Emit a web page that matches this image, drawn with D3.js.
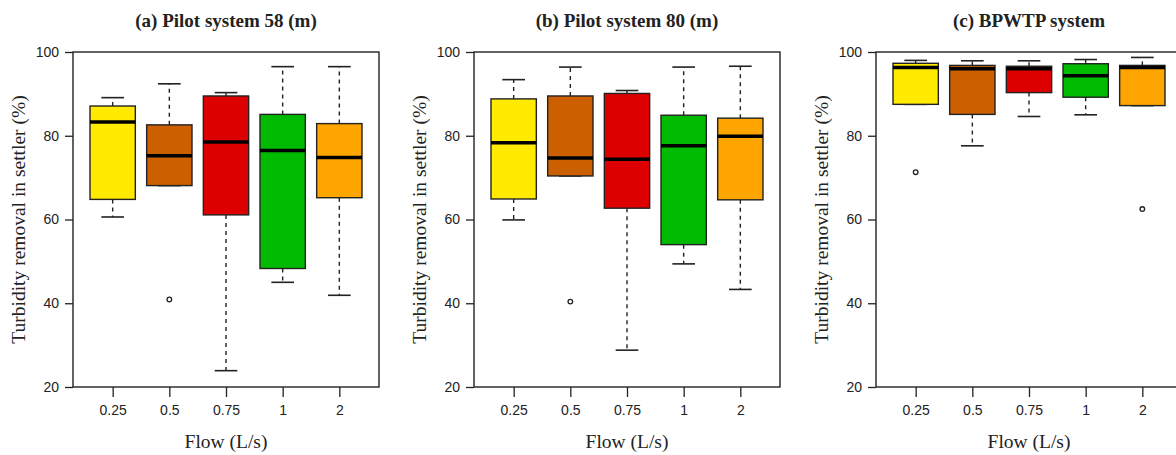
<!DOCTYPE html>
<html>
<head>
<meta charset="utf-8">
<script src="https://cdn.jsdelivr.net/npm/d3@7"></script>
<style>
  body { margin: 0; background: #fff; }
  svg { display: block; }
</style>
</head>
<body>
<svg id="chart"></svg>
<script>
// flow categories (L/s)
var flows = ["0.25", "0.5", "0.75", "1", "2"];
var fills = ["#FFEA00", "#CC6000", "#DD0000", "#00BB00", "#FFA500"];
var yTicks = [20, 40, 60, 80, 100];

// [lower whisker, Q1, median, Q3, upper whisker] per flow
var pilot58 = [
  [60.6, 64.8, 83.3, 87.1, 89.1],
  [68.1, 68.1, 75.2, 82.6, 92.4],
  [23.9, 61.1, 78.5, 89.5, 90.3],
  [45.0, 48.3, 76.5, 85.1, 96.5],
  [41.9, 65.2, 74.8, 82.9, 96.5]
];
var pilot58Out = [[], [40.9], [], [], []];

var pilot80 = [
  [59.9, 64.9, 78.3, 88.8, 93.4],
  [70.4, 70.4, 74.7, 89.5, 96.4],
  [28.8, 62.7, 74.4, 90.1, 90.8],
  [49.4, 54.0, 77.6, 84.9, 96.4],
  [43.3, 64.7, 79.9, 84.2, 96.6]
];
var pilot80Out = [[], [40.4], [], [], []];

var bpwtp = [
  [87.5, 87.5, 96.3, 97.3, 98.0],
  [77.6, 85.1, 96.0, 96.8, 97.9],
  [84.6, 90.3, 96.0, 96.6, 97.9],
  [85.0, 89.2, 94.3, 97.2, 98.2],
  [87.2, 87.2, 96.3, 96.8, 98.7]
];
var bpwtpOut = [[71.3], [], [], [], [62.5]];

var titles = ["(a) Pilot system 58 (m)", "(b) Pilot system 80 (m)", "(c) BPWTP system"];

var width = 1176, height = 455;
var plotW = 306, plotTop = 52, plotBottom = 387;
var lefts = [73, 474, 876];
var ink = "#222";

var svg = d3.select("#chart")
  .attr("width", width)
  .attr("height", height);

var y = d3.scaleLinear().domain([20, 100]).range([plotBottom, plotTop]);
// R style x range: 0.5..5.5 extended 4%
var x = d3.scaleLinear().domain([0.3, 5.7]).range([0, plotW]);

var panels = [
  { stats: pilot58, out: pilot58Out },
  { stats: pilot80, out: pilot80Out },
  { stats: bpwtp, out: bpwtpOut }
];

panels.forEach(function(p, pi) {
  var g = svg.append("g").attr("transform", "translate(" + lefts[pi] + ",0)");

  // y axis
  var ya = g.append("g")
    .call(d3.axisLeft(y).tickValues(yTicks).tickSize(8).tickPadding(6));
  ya.select(".domain").remove();
  ya.selectAll("line").attr("stroke", ink).attr("stroke-width", 1.3);
  ya.selectAll("text")
    .attr("font-family", "Liberation Sans, Arial, sans-serif")
    .attr("font-size", 14).attr("fill", ink);

  // x axis
  var xa = g.append("g")
    .attr("transform", "translate(0," + plotBottom + ")")
    .call(d3.axisBottom(x).tickValues([1, 2, 3, 4, 5])
      .tickFormat(function(d) { return flows[d - 1]; })
      .tickSize(10).tickPadding(8));
  xa.select(".domain").remove();
  xa.selectAll("line").attr("stroke", ink).attr("stroke-width", 1.3);
  xa.selectAll("text")
    .attr("font-family", "Liberation Sans, Arial, sans-serif")
    .attr("font-size", 14).attr("fill", ink);

  var boxW = x(1.8) - x(1);
  var capW = boxW / 2;

  var boxes = g.selectAll(".box").data(p.stats).enter().append("g")
    .attr("class", "box")
    .attr("transform", function(d, i) { return "translate(" + x(i + 1) + ",0)"; });

  // whiskers
  boxes.append("line")
    .attr("y1", function(d) { return y(d[3]); })
    .attr("y2", function(d) { return y(d[4]); })
    .attr("stroke", ink).attr("stroke-width", 1.4).attr("stroke-dasharray", "4,4");
  boxes.append("line")
    .attr("y1", function(d) { return y(d[1]); })
    .attr("y2", function(d) { return y(d[0]); })
    .attr("stroke", ink).attr("stroke-width", 1.4).attr("stroke-dasharray", "4,4");
  boxes.append("line")
    .attr("x1", -capW / 2).attr("x2", capW / 2)
    .attr("y1", function(d) { return y(d[4]); })
    .attr("y2", function(d) { return y(d[4]); })
    .attr("stroke", ink).attr("stroke-width", 1.6);
  boxes.append("line")
    .attr("x1", -capW / 2).attr("x2", capW / 2)
    .attr("y1", function(d) { return y(d[0]); })
    .attr("y2", function(d) { return y(d[0]); })
    .attr("stroke", ink).attr("stroke-width", 1.6);

  // box
  boxes.append("rect")
    .attr("x", -boxW / 2)
    .attr("width", boxW)
    .attr("y", function(d) { return y(d[3]); })
    .attr("height", function(d) { return y(d[1]) - y(d[3]); })
    .attr("fill", function(d, i) { return fills[i]; })
    .attr("stroke", ink).attr("stroke-width", 1.4);

  // median
  boxes.append("line")
    .attr("x1", -boxW / 2).attr("x2", boxW / 2)
    .attr("y1", function(d) { return y(d[2]); })
    .attr("y2", function(d) { return y(d[2]); })
    .attr("stroke", "#000").attr("stroke-width", 3.5);

  // outliers
  p.out.forEach(function(vals, i) {
    g.selectAll(null).data(vals).enter().append("circle")
      .attr("cx", x(i + 1))
      .attr("cy", function(v) { return y(v); })
      .attr("r", 2.3)
      .attr("fill", "#fff")
      .attr("stroke", ink).attr("stroke-width", 1.3);
  });

  // frame
  g.append("rect")
    .attr("x", 0).attr("y", plotTop)
    .attr("width", plotW).attr("height", plotBottom - plotTop)
    .attr("fill", "none").attr("stroke", ink).attr("stroke-width", 1.4);

  // titles
  g.append("text")
    .attr("x", plotW / 2).attr("y", 27)
    .attr("text-anchor", "middle")
    .attr("font-family", "Liberation Serif, Times New Roman, serif")
    .attr("font-weight", "bold").attr("font-size", 19)
    .attr("fill", ink)
    .text(titles[pi]);

  g.append("text")
    .attr("x", plotW / 2).attr("y", 448)
    .attr("text-anchor", "middle")
    .attr("font-family", "Liberation Serif, Times New Roman, serif")
    .attr("font-size", 19.5).attr("fill", ink)
    .text("Flow (L/s)");

  g.append("text")
    .attr("transform", "translate(-48," + ((plotTop + plotBottom) / 2) + ") rotate(-90)")
    .attr("text-anchor", "middle")
    .attr("font-family", "Liberation Serif, Times New Roman, serif")
    .attr("font-size", 19.5).attr("fill", ink)
    .text("Turbidity removal in settler (%)");
});
</script>
</body>
</html>
